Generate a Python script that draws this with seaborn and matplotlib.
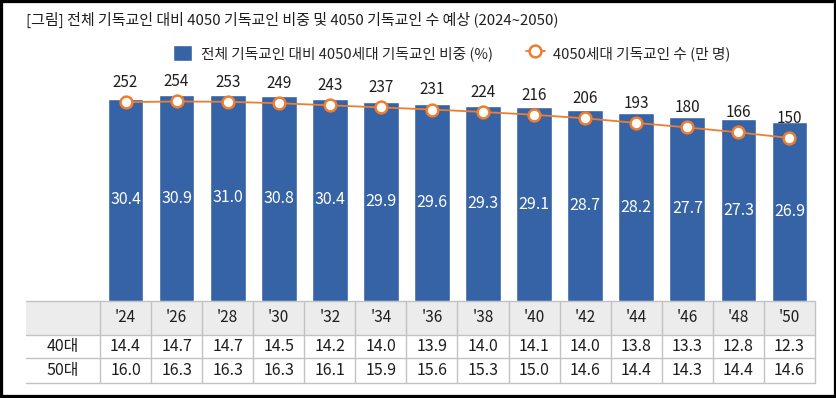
import matplotlib
matplotlib.use("Agg")
import matplotlib.pyplot as plt
import seaborn as sns
import pandas as pd
from matplotlib.patches import Rectangle

# data
years = ["'24", "'26", "'28", "'30", "'32", "'34", "'36", "'38", "'40", "'42", "'44", "'46", "'48", "'50"]
share_pct = [30.4, 30.9, 31.0, 30.8, 30.4, 29.9, 29.6, 29.3, 29.1, 28.7, 28.2, 27.7, 27.3, 26.9]
believers = [252, 254, 253, 249, 243, 237, 231, 224, 216, 206, 193, 180, 166, 150]
age40 = [14.4, 14.7, 14.7, 14.5, 14.2, 14.0, 13.9, 14.0, 14.1, 14.0, 13.8, 13.3, 12.8, 12.3]
age50 = [16.0, 16.3, 16.3, 16.3, 16.1, 15.9, 15.6, 15.3, 15.0, 14.6, 14.4, 14.3, 14.4, 14.6]
row_labels = ["40대", "50대"]

title = "[그림] 전체 기독교인 대비 4050 기독교인 비중 및 4050 기독교인 수 예상 (2024~2050)"
bar_label = "전체 기독교인 대비 4050세대 기독교인 비중 (%)"
line_label = "4050세대 기독교인 수 (만 명)"

BLUE = "#3563a5"
ORANGE = "#ed7d31"
GRID = "#c2c2c2"
TXT = "#1e1e1e"

sns.set_theme(style="white")
plt.rcParams['font.family'] = ['Noto Sans CJK KR', 'DejaVu Sans']

df = pd.DataFrame({"year": years, "share": share_pct, "count": believers})

W, H = 837, 398
fig = plt.figure(figsize=(W / 100, H / 100), dpi=100)

# pixel helper: left, top, right, bottom in pixels -> figure rect
def px_rect(l, t, r, b):
    return [l / W, 1 - b / H, (r - l) / W, (b - t) / H]

# table layer (pixel coordinates)
tab = fig.add_axes([0, 0, 1, 1])
tab.set_xlim(0, W)
tab.set_ylim(H, 0)
tab.axis("off")

t_left, c_left, t_right = 26, 100, 815
rows_y = [301, 335, 358, 383]
col_w = (t_right - c_left) / len(years)

tab.add_patch(Rectangle((t_left, rows_y[0]), t_right - t_left, rows_y[1] - rows_y[0],
                        facecolor="#ececec", edgecolor="none"))
for y in rows_y:
    tab.plot([t_left, t_right], [y, y], color=GRID, lw=1)
for i in range(len(years) + 1):
    x = c_left + i * col_w
    tab.plot([x, x], [rows_y[0], rows_y[-1]], color=GRID, lw=1)

for i, yr in enumerate(years):
    cx = c_left + (i + 0.5) * col_w
    tab.text(cx, (rows_y[0] + rows_y[1]) / 2, yr, ha="center", va="center", fontsize=11, color=TXT)
    for r, vals in enumerate([age40, age50]):
        tab.text(cx, (rows_y[r + 1] + rows_y[r + 2]) / 2, f"{vals[i]:.1f}",
                 ha="center", va="center", fontsize=11.5, color=TXT)
for r, lab in enumerate(row_labels):
    tab.text((t_left + c_left) / 2, (rows_y[r + 1] + rows_y[r + 2]) / 2, lab,
             ha="center", va="center", fontsize=11.5, color=TXT)

# bar + line chart
ax = fig.add_axes(px_rect(c_left, 60, t_right, 301))
sns.barplot(data=df, x="year", y="share", color=BLUE, saturation=1, width=0.7, ax=ax)
ax.set_xlim(-0.5, len(years) - 0.5)
ax.set_ylim(0, 36.2)
ax.bar_label(ax.containers[0], fmt="%.1f", label_type="center", color="white", fontsize=11.5)

ax2 = ax.twinx()
sns.lineplot(data=df, x="year", y="count", ax=ax2, color=ORANGE, linewidth=1.3,
             marker="o", markersize=8.5, markerfacecolor="white",
             markeredgecolor=ORANGE, markeredgewidth=1.8)
ax2.set_ylim(-314, 372)
for i, v in enumerate(believers):
    ax2.annotate(str(v), (i, v), xytext=(0, 11), textcoords="offset points",
                 ha="center", va="baseline", fontsize=11, color=TXT)

for a in (ax, ax2):
    a.set_xlabel("")
    a.set_ylabel("")
    a.set_xticks([])
    a.set_yticks([])
    for s in a.spines.values():
        s.set_visible(False)
    a.patch.set_alpha(0)

fig.text(t_left / W, 1 - 20 / H, title, ha="left", va="center", fontsize=10.8, color=TXT)

handles = [ax.patches[0], ax2.lines[0]]
fig.legend(handles, [bar_label, line_label], loc="center", bbox_to_anchor=(452 / W, 1 - 53 / H),
           ncol=2, frameon=False, fontsize=10.6, handlelength=1.3, handleheight=1.3,
           columnspacing=2.2, handletextpad=0.6)

# black frame around the picture
fig.patches.append(Rectangle((0, 0), 1, 1, transform=fig.transFigure, fill=False,
                             edgecolor="black", linewidth=4.5))

fig.savefig("out.png", dpi=100)
